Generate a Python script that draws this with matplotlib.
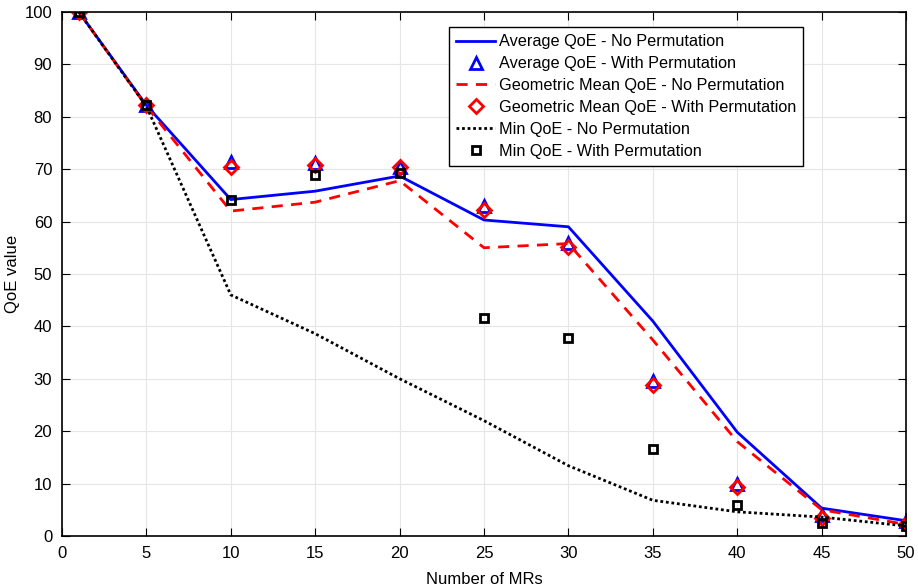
import matplotlib.pyplot as plt

plt.rcParams['font.family'] = ['Liberation Sans', 'DejaVu Sans']

# ── data ─────────────────────────────────────────────────────────────────────
mrs = [1, 5, 10, 15, 20, 25, 30, 35, 40, 45, 50]

avg_no_perm = [100, 82.2, 64.2, 65.8, 68.7, 60.3, 59.0, 41.0, 19.8, 5.3, 2.9]
avg_perm = [100, 82.2, 71.3, 71.2, 70.5, 63.0, 56.0, 29.6, 10.0, 4.0, 2.8]

geo_no_perm = [100, 82.0, 62.0, 63.7, 67.8, 55.0, 55.8, 37.4, 18.0, 5.0, 2.2]
geo_perm = [100, 82.2, 70.5, 70.8, 70.5, 62.2, 55.2, 28.8, 9.3, 3.4, 2.3]

min_no_perm = [100, 82.0, 46.0, 38.6, 30.0, 22.0, 13.4, 6.8, 4.6, 3.6, 1.9]
min_perm = [100, 82.2, 64.2, 68.9, 69.3, 41.5, 37.8, 16.6, 5.9, 2.4, 1.8]

# ── plot ─────────────────────────────────────────────────────────────────────
fig = plt.figure(figsize=(9.18, 5.87), dpi=100)
ax = fig.add_axes([0.0675, 0.087, 0.9195, 0.8926])

ax.plot(mrs, avg_no_perm, color='b', lw=2, label='Average QoE - No Permutation')
ax.plot(mrs, avg_perm, ls='none', marker='^', ms=9, mfc='none', mec='b',
        mew=2, label='Average QoE - With Permutation')
ax.plot(mrs, geo_no_perm, color='r', lw=2, ls=(0, (4, 3)),
        label='Geometric Mean QoE - No Permutation')
ax.plot(mrs, geo_perm, ls='none', marker='D', ms=7, mfc='none', mec='r',
        mew=2, label='Geometric Mean QoE - With Permutation')
ax.plot(mrs, min_no_perm, color='k', lw=2, ls=(0, (1, 1)),
        label='Min QoE - No Permutation')
ax.plot(mrs, min_perm, ls='none', marker='s', ms=6, mfc='none', mec='k',
        mew=2, label='Min QoE - With Permutation')

ax.set_xlim(0, 50)
ax.set_ylim(0, 100)
ax.set_xticks(range(0, 51, 5))
ax.set_yticks(range(0, 101, 10))
ax.tick_params(direction='in', top=True, right=True, labelsize=12, length=6,
               pad=7)
ax.grid(color='#e6e6e6', lw=0.8)
ax.set_axisbelow(True)
for s in ax.spines.values():
    s.set_linewidth(1.2)

ax.set_xlabel('Number of MRs', fontsize=12, labelpad=8)
ax.set_ylabel('QoE value', fontsize=12, labelpad=3)

leg = ax.legend(loc='upper right', bbox_to_anchor=(0.878, 0.971), fontsize=11.7,
                fancybox=False, framealpha=1, edgecolor='k', handlelength=2.4,
                borderpad=0.45, labelspacing=0.42, handletextpad=0.2,
                borderaxespad=0)
leg.get_frame().set_linewidth(1.0)

fig.savefig('out.png', dpi=100)
